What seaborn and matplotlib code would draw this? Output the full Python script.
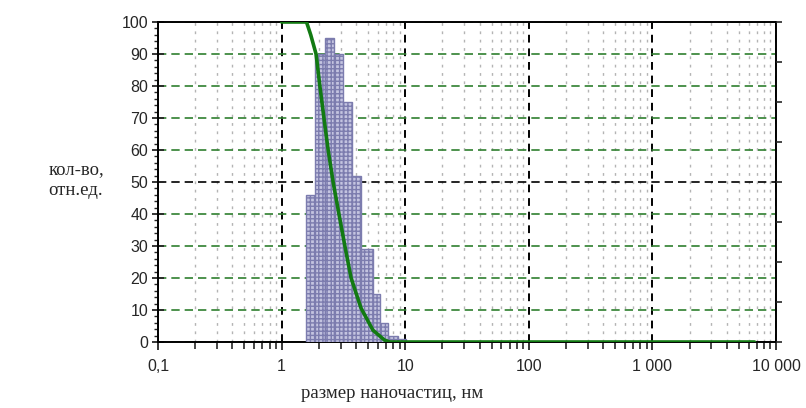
import numpy as np
import matplotlib
matplotlib.use('Agg')
import matplotlib.pyplot as plt
import matplotlib.ticker as mticker
import seaborn as sns

# histogram bars: left edges (nm) and heights (rel. units)
bar_left = [1.59, 1.88, 2.23, 2.67, 3.15, 3.73, 4.39, 5.48, 6.24, 7.23, 8.71]
bar_right_last = 10.1
bar_height = [46, 90, 95, 90, 75, 52, 29, 15, 6, 2, 1]

# green curve
curve_x = [1.0, 1.59, 1.72, 1.90, 2.04, 2.20, 2.38, 2.61, 2.91, 3.25, 3.65, 4.39, 5.48, 6.8, 7.5, 20, 100, 1000, 6700]
curve_y = [100, 100, 96, 90, 80, 70, 60, 50, 40, 30, 20, 10.6, 3.7, 0.6, 0, 0, 0, 0, 0]

x_ticks = [0.1, 1, 10, 100, 1000, 10000]
x_tick_labels = ['0,1', '1', '10', '100', '1 000', '10 000']
y_ticks = list(range(0, 101, 10))

sns.set_style('white')
plt.rcParams['font.family'] = ['Liberation Sans', 'DejaVu Sans']

fig = plt.figure(figsize=(8.06, 4.08), dpi=100)
ax = fig.add_axes([158 / 806, 66 / 408, 618 / 806, 320 / 408])
ax.set_xscale('log')

edges = np.array(bar_left + [bar_right_last])
centers = np.sqrt(edges[:-1] * edges[1:])
sns.histplot(x=centers, weights=bar_height, bins=[float(e) for e in np.log10(edges)],
             log_scale=True, ax=ax, stat='count', element='bars',
             facecolor='#c4c4e0', edgecolor='#7c7cae', linewidth=1.0,
             hatch='++++', alpha=1, zorder=3)

sns.lineplot(x=curve_x, y=curve_y, ax=ax, color='#127a12', linewidth=2.6, zorder=4)

ax.set_xlim(0.1, 10000)
ax.set_ylim(0, 100)

ax.xaxis.set_major_locator(mticker.FixedLocator(x_ticks))
ax.xaxis.set_major_formatter(mticker.FixedFormatter(x_tick_labels))
ax.xaxis.set_minor_locator(mticker.LogLocator(base=10, subs=np.arange(2, 10), numticks=20))
ax.xaxis.set_minor_formatter(mticker.NullFormatter())
ax.yaxis.set_major_locator(mticker.FixedLocator(y_ticks))
ax.yaxis.set_minor_locator(mticker.MultipleLocator(2))

ax.tick_params(axis='x', which='major', direction='out', length=6, width=1.3,
               bottom=True, labelsize=11.5, pad=6)
ax.tick_params(axis='x', which='minor', direction='out', length=5, width=1.2, bottom=True)
ax.tick_params(axis='y', which='major', direction='inout', length=8, width=1.3,
               left=True, labelsize=11.5, pad=3)
ax.tick_params(axis='y', which='minor', direction='out', length=3, width=1.0, left=True)

ax.set_axisbelow(True)
ax.xaxis.grid(True, which='major', color='black', linestyle=(0, (4, 3)), linewidth=1.4)
ax.xaxis.grid(True, which='minor', color='#b4b4b4', linestyle=(0, (2, 4)), linewidth=1.0)
ax.yaxis.grid(True, which='major', color='#2f7f2f', linestyle=(0, (5, 3)), linewidth=1.2)
for v, gl in zip(y_ticks, ax.get_ygridlines()):
    if v == 50:
        gl.set_color('black')

for side in ['left', 'bottom', 'top', 'right']:
    ax.spines[side].set_visible(True)
    ax.spines[side].set_color('black')
    ax.spines[side].set_linewidth(1.4)

ax2 = ax.twinx()
ax2.set_ylim(0, 100)
ax2.yaxis.set_major_locator(mticker.MultipleLocator(12.5))
ax2.yaxis.set_major_formatter(mticker.NullFormatter())
ax2.tick_params(axis='y', direction='out', length=4, width=1.2, right=True)
ax2.grid(False)
for side in ['left', 'bottom', 'top', 'right']:
    ax2.spines[side].set_visible(False)

ax.set_xlabel('')
ax.set_ylabel('')
fig.text(392 / 806, 1 - 393 / 408, 'размер наночастиц, нм', ha='center', va='center',
         fontsize=13.5, family=['Liberation Serif', 'DejaVu Serif'])
fig.text(76 / 806, 1 - 180 / 408, 'кол-во,\nотн.ед.', ha='center', va='center',
         fontsize=13.5, family=['Liberation Serif', 'DejaVu Serif'], linespacing=1.3)

fig.savefig('out.png', dpi=100)
